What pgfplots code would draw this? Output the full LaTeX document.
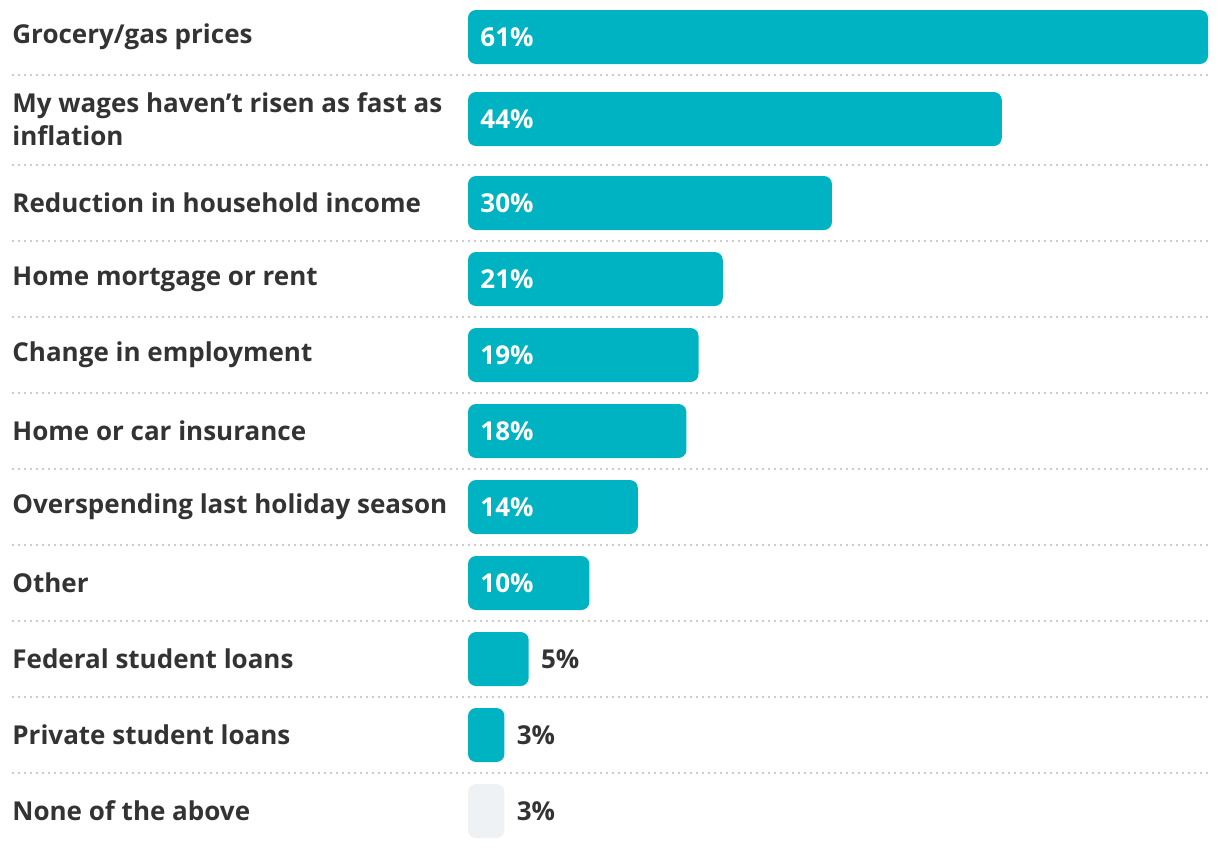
\documentclass[border=0pt]{standalone}
\usepackage{pgfplots}
\pgfplotsset{compat=1.18}
\usepackage{pgfplotstable}
\usepackage{fontspec}
\setmainfont{Open Sans}
\definecolor{barteal}{HTML}{00B3C3}
\definecolor{barlight}{HTML}{EEF2F5}
\definecolor{txt}{HTML}{333333}
\definecolor{sepcol}{HTML}{CDCDCD}

\pgfplotstableread{
y v
37 61
119 44
203 30
279 21
355 19
431 18
507 14
583 10
659 5
735 3
}\mainbars
\pgfplotstableread{
y v
811 3
}\nonebar
\pgfplotstableread{
x y v
0.99 37 61
0.99 119 44
0.99 203 30
0.99 279 21
0.99 355 19
0.99 431 18
0.99 507 14
0.99 583 10
}\insidelabels
\pgfplotstableread{
x y v
5.99 659 5
3.99 735 3
3.99 811 3
}\outsidelabels

\begin{document}
\begin{tikzpicture}
\begin{axis}[
  scale only axis, width=598pt, height=424pt,
  xmin=-37.589, xmax=61, ymin=0, ymax=848, y dir=reverse,
  axis line style={draw=none}, tick style={draw=none}, xtick=\empty,
  /pgf/number format/assume math mode=true,
  ytick={37,119,203,279,355,431,507,583,659,735,811},
  yticklabels={Grocery/gas prices,{My wages haven’t risen as fast as\\inflation},Reduction in household income,Home mortgage or rent,Change in employment,Home or car insurance,Overspending last holiday season,Other,Federal student loans,Private student loans,None of the above},
  yticklabel style={anchor=west, inner sep=0pt, align=left, font=\bfseries\fontsize{13}{16.5}\selectfont, text=txt},
  extra y ticks={75,165,241,317,393,469,545,621,697,773},
  extra y tick labels={},
  extra y tick style={grid=major},
  major grid style={sepcol, line width=0.9pt, dash pattern=on 0.9pt off 2.1pt},
  clip=false,
]
\addplot[xbar, bar width=27pt, bar shift=0pt, fill=barteal, draw=none, rounded corners=4pt] table[x=v, y=y] {\mainbars};
\addplot[xbar, bar width=27pt, bar shift=0pt, fill=barlight, draw=none, rounded corners=4pt] table[x=v, y=y] {\nonebar};
\addplot[draw=none, mark=none, point meta=explicit,
  nodes near coords={\pgfmathprintnumber{\pgfplotspointmeta}\%},
  nodes near coords align={horizontal},
  every node near coord/.append style={anchor=west, inner sep=0pt, text=white, font=\bfseries\fontsize{13}{14}\selectfont}]
  table[x=x, y=y, meta=v] {\insidelabels};
\addplot[draw=none, mark=none, point meta=explicit,
  nodes near coords={\pgfmathprintnumber{\pgfplotspointmeta}\%},
  nodes near coords align={horizontal},
  every node near coord/.append style={anchor=west, inner sep=0pt, text=txt, font=\bfseries\fontsize{13}{14}\selectfont}]
  table[x=x, y=y, meta=v] {\outsidelabels};
\end{axis}
\path ([xshift=-6pt]current axis.south west) rectangle ([xshift=6pt]current axis.north east);
\end{tikzpicture}
\end{document}
